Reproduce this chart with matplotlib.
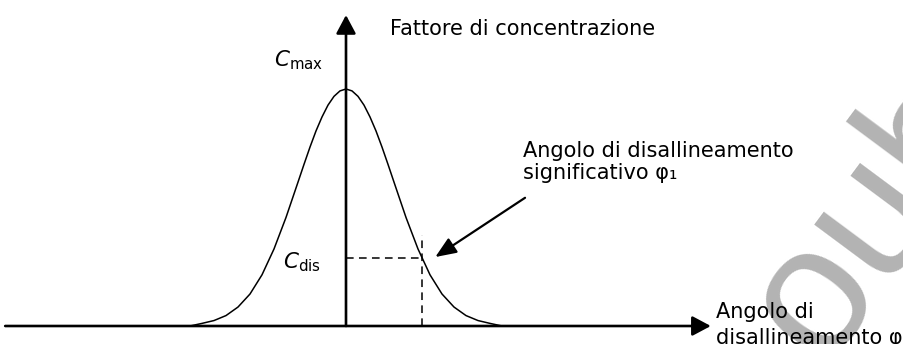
import matplotlib
matplotlib.use("Agg")
import matplotlib.pyplot as plt

plt.rcParams['font.family'] = ['DejaVu Sans']
plt.rcParams['mathtext.fontset'] = 'custom'
plt.rcParams['mathtext.rm'] = 'DejaVu Sans'
plt.rcParams['mathtext.it'] = 'DejaVu Sans:italic'

# curva del fattore di concentrazione (angolo in unità di sigma, C / Cmax)
angolo = [-3.25, -3.0, -2.75, -2.5, -2.25, -2.0, -1.75, -1.5, -1.25, -1.0,
          -0.875, -0.75, -0.625, -0.5, -0.375, -0.25, -0.125, 0.0,
          0.125, 0.25, 0.375, 0.5, 0.625, 0.75, 0.875, 1.0,
          1.25, 1.5, 1.75, 2.0, 2.25, 2.5, 2.75, 3.0, 3.25]
fattore = [0.0, 0.011, 0.023, 0.044, 0.080, 0.135, 0.216, 0.325, 0.458, 0.607,
           0.682, 0.755, 0.823, 0.882, 0.932, 0.969, 0.992, 1.0,
           0.992, 0.969, 0.932, 0.882, 0.823, 0.755, 0.682, 0.607,
           0.458, 0.325, 0.216, 0.135, 0.080, 0.044, 0.023, 0.011, 0.0]

phi1 = 1.58      # angolo di disallineamento significativo
c_dis = 0.287    # fattore in corrispondenza di phi1

W, H = 904, 344
fig = plt.figure(figsize=(W / 100, H / 100), dpi=100)
ax = fig.add_axes([0, 0, 1, 1])
ax.set_xlim(-346 / 48, (W - 346) / 48)
ax.set_ylim(-(H - 326) / 237, 326 / 237)
ax.axis('off')


def px(x, y):
    # pixel dell'immagine -> coordinate figura
    return x / W, 1 - y / H


# assi con freccia
ax.annotate('', xy=(7.6, 0), xytext=(-7.1, 0),
            arrowprops=dict(arrowstyle='-|>,head_length=0.75,head_width=0.4',
                            mutation_scale=15, lw=1.9, color='black',
                            shrinkA=0, shrinkB=0))
ax.annotate('', xy=(0, 1.312), xytext=(0, 0),
            arrowprops=dict(arrowstyle='-|>,head_length=0.75,head_width=0.4',
                            mutation_scale=15, lw=1.9, color='black',
                            shrinkA=0, shrinkB=0))

ax.plot(angolo, fattore, color='black', lw=1.1, zorder=3)

# linee tratteggiate
ax.plot([0, phi1], [c_dis, c_dis], color='black', lw=1.1, dashes=(5, 3.5))
ax.plot([phi1, phi1], [0, 0.384], color='black', lw=1.1, dashes=(5, 3.5))

# freccia verso il punto phi1
ax.annotate('', xy=(phi1 + 0.28, c_dis + 0.004), xytext=(3.73, 0.541),
            arrowprops=dict(arrowstyle='-|>,head_length=0.85,head_width=0.35',
                            mutation_scale=15, lw=1.6, color='black',
                            shrinkA=0, shrinkB=0))

# testi
fs = 15
fig.text(*px(390, 35), 'Fattore di concentrazione', fontsize=fs)
fig.text(*px(274, 66), r'$C_{\mathrm{max}}$', fontsize=15.5)
fig.text(*px(283, 268), r'$C_{\mathrm{dis}}$', fontsize=15.5)
fig.text(*px(523, 157), 'Angolo di disallineamento', fontsize=fs)
fig.text(*px(523, 179), 'significativo φ\u2081', fontsize=fs)
fig.text(*px(716, 318), 'Angolo di', fontsize=fs, zorder=5)
fig.text(*px(716, 344), 'disallineamento φ', fontsize=fs, zorder=5)

# filigrana
fig.text(*px(822, 366), 'oub', fontsize=131, color='#b3b3b3', rotation=53.4,
         family='Liberation Sans', rotation_mode='anchor', ha='left',
         va='baseline', zorder=-1)

fig.savefig('out.png', dpi=100)
